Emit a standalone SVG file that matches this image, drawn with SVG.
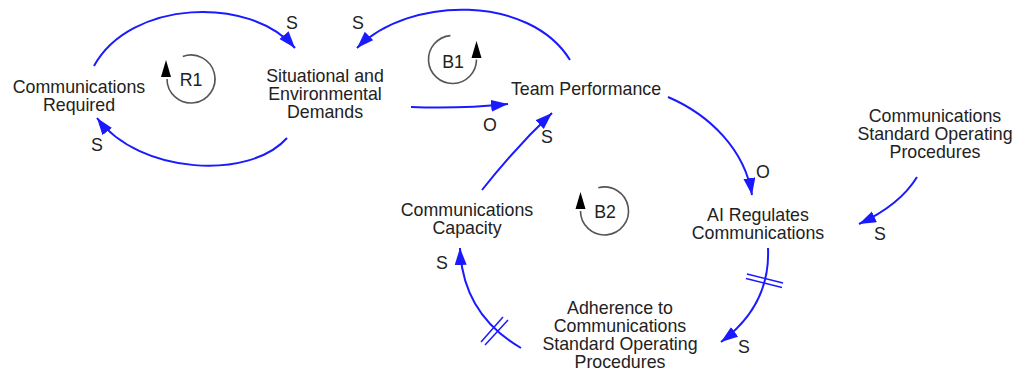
<svg xmlns="http://www.w3.org/2000/svg" width="1016" height="377" viewBox="0 0 1016 377">
<style>
.t{font-family:"Liberation Sans",Arial,sans-serif;font-size:17.8px;fill:#222;text-anchor:middle}
.c{fill:none;stroke:#1a1aff;stroke-width:2}
.d{fill:none;stroke:#1a1aff;stroke-width:1.5}
.l{fill:none;stroke:#555;stroke-width:1.6}
.h{fill:#000}
</style>
<defs>
<marker id="a" markerUnits="userSpaceOnUse" markerWidth="19" markerHeight="13" refX="17" refY="6" orient="auto">
<path d="M0,0 L17,6 L0,12 z" fill="#1a1aff"/>
</marker>
</defs>
<rect width="1016" height="377" fill="#fff"/>

<g id="connectors">
<path class="c" d="M94,66 C130,0 250,-5 295,48" marker-end="url(#a)"/>
<path class="c" d="M287,138 C250,180 140,175 97,118" marker-end="url(#a)"/>
<path class="c" d="M570,60 C530,-5 410,-5 357,48" marker-end="url(#a)"/>
<path class="c" d="M411,107 Q460,109 508,104" marker-end="url(#a)"/>
<path class="c" d="M482,190 Q515,148 552,113" marker-end="url(#a)"/>
<path class="c" d="M668,97 C710,115 745,150 752,195" marker-end="url(#a)"/>
<path class="c" d="M917,177 Q900,205 859,224" marker-end="url(#a)"/>
<path class="c" d="M768,248 C770,292 748,322 721,342" marker-end="url(#a)"/>
<path class="c" d="M521,348 C490,330 462,300 460,248" marker-end="url(#a)"/>
<path class="d" d="M747,274 L783,283 M746,278.5 L782,287.5"/>
<path class="d" d="M481,342 L503,317 M485,345 L508,320"/>
<text class="t" x="292" y="29">S</text>
<text class="t" x="97" y="151">S</text>
<text class="t" x="358" y="29">S</text>
<text class="t" x="490" y="131">O</text>
<text class="t" x="547" y="143">S</text>
<text class="t" x="763" y="178">O</text>
<text class="t" x="880" y="240">S</text>
<text class="t" x="744" y="353">S</text>
<text class="t" x="442" y="269">S</text>
</g>

<g id="loop-R1">
<path class="l" d="M182.8,56.4 A24,24 0 1 1 167,79"/>
<path class="h" d="M166,60 L171,77 L161,77 z"/>
<text class="t" x="191" y="86">R1</text>
</g>
<g id="loop-B1">
<path class="l" d="M450.4,35.6 A24,24 0 1 0 476.5,59.5"/>
<path class="h" d="M476.5,41 L481.5,58 L471.5,58 z"/>
<text class="t" x="453" y="68">B1</text>
</g>
<g id="loop-B2">
<path class="l" d="M598.3,187.8 A24,24 0 1 1 580.5,211"/>
<path class="h" d="M580.5,192 L585.5,209 L575.5,209 z"/>
<text class="t" x="605" y="218">B2</text>
</g>

<g id="node-comms-required">
<text class="t" x="79" y="93">Communications</text>
<text class="t" x="79" y="111">Required</text>
</g>
<g id="node-situational">
<text class="t" x="325" y="82">Situational and</text>
<text class="t" x="325" y="100">Environmental</text>
<text class="t" x="325" y="118">Demands</text>
</g>
<g id="node-team-performance">
<text class="t" x="586" y="95">Team Performance</text>
</g>
<g id="node-comms-capacity">
<text class="t" x="467" y="216">Communications</text>
<text class="t" x="467" y="234">Capacity</text>
</g>
<g id="node-ai-regulates">
<text class="t" x="758" y="221">AI Regulates</text>
<text class="t" x="758" y="239">Communications</text>
</g>
<g id="node-adherence">
<text class="t" x="620" y="314">Adherence to</text>
<text class="t" x="620" y="332">Communications</text>
<text class="t" x="620" y="350">Standard Operating</text>
<text class="t" x="620" y="368">Procedures</text>
</g>
<g id="node-comms-sop">
<text class="t" x="935" y="122">Communications</text>
<text class="t" x="935" y="140">Standard Operating</text>
<text class="t" x="935" y="158">Procedures</text>
</g>
</svg>
